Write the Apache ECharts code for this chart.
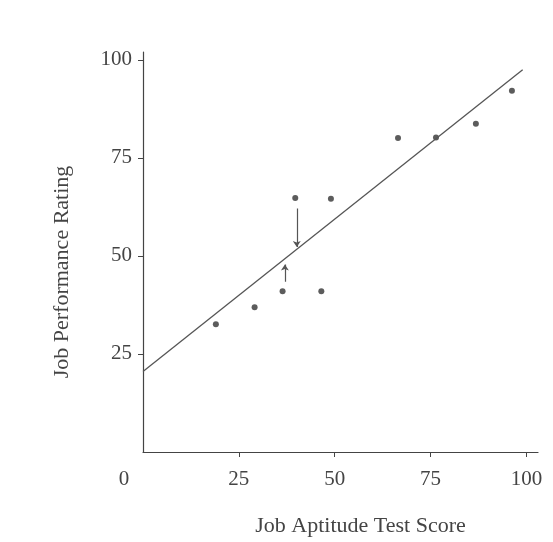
<!DOCTYPE html>
<html>
<head>
<meta charset="utf-8">
<title>Job Aptitude vs Job Performance</title>
<script src="https://cdn.jsdelivr.net/npm/echarts@6/dist/echarts.min.js"></script>
<style>
  html, body { margin: 0; padding: 0; background: #fff; }
  #container { width: 553px; height: 542px; }
</style>
</head>
<body>
<div id="container"></div>
<script>
// test score / rating pairs
var scoreX = [19.0, 29.1, 36.4, 46.5, 39.7, 49.0, 66.5, 76.4, 86.8, 96.2];
var ratingY = [32.6, 36.9, 41.0, 41.0, 64.8, 64.6, 80.1, 80.2, 83.7, 92.1];
// fitted line ends
var fitX = [0, 99];
var fitY = [20.5, 97.5];
// residual arrows: [x, from y, to y]
var arrowX = [40.1, 37.0];
var arrowFrom = [62.1, 43.4];
var arrowTo = [52.3, 47.8];
var tickValues = [25, 50, 75, 100];
var xLabelValues = [0, 25, 50, 75, 100];

var ink = '#444';
var font = 'Liberation Serif';

var dom = document.getElementById('container');
var myChart = echarts.init(dom);

var points = [], fitLine = [], arrows = [];
for (var i = 0; i < scoreX.length; i++) {
    points.push([scoreX[i], ratingY[i]]);
}
for (var j = 0; j < fitX.length; j++) {
    fitLine.push([fitX[j], fitY[j]]);
}
for (var k = 0; k < arrowX.length; k++) {
    arrows.push({coords: [[arrowX[k], arrowFrom[k]], [arrowX[k], arrowTo[k]]]});
}

var option = {
    backgroundColor: '#fff',
    animation: false,
    grid: {left: 143, right: 15, top: 52, bottom: 88},
    xAxis: {
        type: 'value',
        min: 0,
        max: 103,
        interval: 25,
        splitLine: {show: false},
        axisLine: {onZero: false, lineStyle: {color: ink, width: 1.2}},
        axisTick: {show: true, length: 5, customValues: tickValues, lineStyle: {color: ink}},
        axisLabel: {
            customValues: xLabelValues,
            margin: 17,
            color: ink,
            fontFamily: font,
            fontSize: 21,
            formatter: function (v) { return v === 0 ? '{z|0}' : String(v); },
            rich: {z: {fontFamily: font, fontSize: 21, color: ink, padding: [0, 38, 0, 0]}}
        },
        name: 'Job Aptitude Test Score',
        nameLocation: 'middle',
        nameGap: 63,
        nameTextStyle: {color: ink, fontFamily: font, fontSize: 22, padding: [0, 0, 0, 40]}
    },
    yAxis: {
        type: 'value',
        min: 0,
        max: 102,
        interval: 25,
        splitLine: {show: false},
        axisLine: {onZero: false, lineStyle: {color: ink, width: 1.2}},
        axisTick: {show: true, length: 5, customValues: tickValues, lineStyle: {color: ink}},
        axisLabel: {
            customValues: tickValues,
            margin: 11,
            color: ink,
            fontFamily: font,
            fontSize: 21
        },
        name: 'Job Performance Rating',
        nameLocation: 'middle',
        nameGap: 70,
        nameTextStyle: {color: ink, fontFamily: font, fontSize: 22, padding: [0, 40, 0, 0]}
    },
    series: [
        {
            type: 'line',
            data: fitLine,
            symbol: 'none',
            lineStyle: {color: '#555', width: 1.3},
            silent: true
        },
        {
            type: 'scatter',
            data: points,
            symbolSize: 6,
            itemStyle: {color: '#333'}
        },
        {
            type: 'lines',
            coordinateSystem: 'cartesian2d',
            data: arrows,
            symbol: ['none', 'arrow'],
            symbolSize: 6,
            lineStyle: {color: '#555', width: 1.2, opacity: 1}
        }
    ]
};

myChart.setOption(option, true);
window.addEventListener('resize', function () {
    myChart.resize();
});
</script>
</body>
</html>
